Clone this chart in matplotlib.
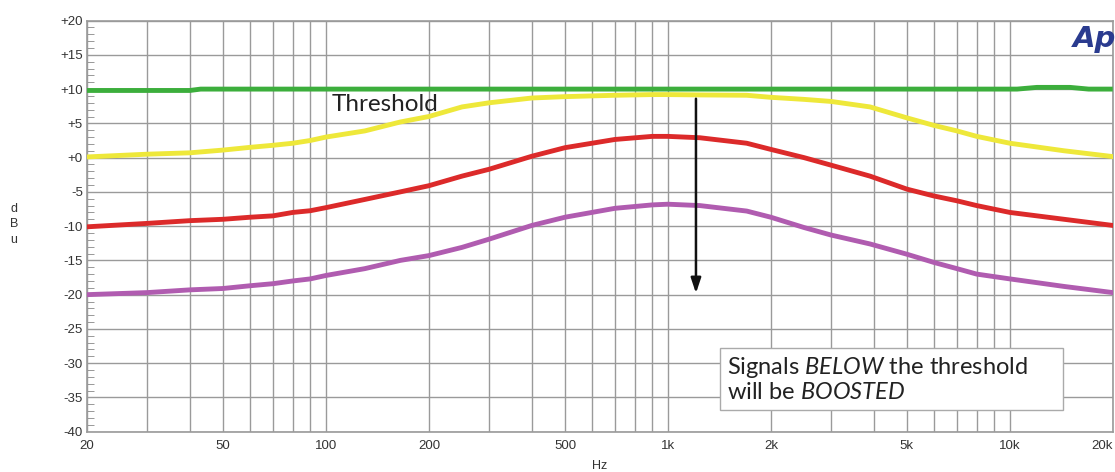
import matplotlib
matplotlib.use("Agg")
import matplotlib.pyplot as plt
from matplotlib.patches import Rectangle
from matplotlib.ticker import FixedLocator, NullFormatter

plt.rcParams['font.family'] = ['Liberation Sans', 'DejaVu Sans']
plt.rcParams['mathtext.fontset'] = 'custom'
plt.rcParams['mathtext.rm'] = 'Lato'
plt.rcParams['mathtext.it'] = 'Lato:italic'

# Frequencies (Hz) at which the curves were read
freq = [20, 30, 40, 50, 60, 70, 80, 90, 100, 130, 165, 200, 250, 300, 400, 500,
        700, 900, 1000, 1240, 1700, 2000, 2500, 3000, 3900, 5000, 6000, 7000,
        8000, 10000, 14400, 20000]

yellow_db = [0.1, 0.5, 0.7, 1.1, 1.5, 1.8, 2.1, 2.5, 3.0, 3.9, 5.2, 6.0, 7.4, 8.0, 8.7, 8.9,
             9.1, 9.2, 9.2, 9.15, 9.1, 8.8, 8.5, 8.2, 7.4, 5.8, 4.7, 3.9,
             3.1, 2.1, 1.0, 0.15]
red_db = [-10.1, -9.6, -9.2, -9.0, -8.7, -8.5, -8.0, -7.75, -7.3, -6.1, -5.0, -4.1, -2.7, -1.7, 0.2, 1.45,
          2.65, 3.1, 3.1, 2.9, 2.1, 1.2, 0.0, -1.1, -2.7, -4.6, -5.6, -6.3,
          -7.0, -8.0, -9.0, -9.9]
purple_db = [-20.0, -19.7, -19.3, -19.1, -18.7, -18.4, -18.0, -17.7, -17.2, -16.2, -15.0, -14.3, -13.1, -11.9, -9.9, -8.7,
             -7.4, -6.9, -6.8, -7.0, -7.8, -8.7, -10.2, -11.3, -12.6, -14.1, -15.3, -16.2,
             -17.0, -17.7, -18.8, -19.7]

# Threshold line
thr_freq = [20, 40, 43, 10500, 12000, 15000, 17000, 20000]
thr_db = [9.8, 9.8, 10.0, 10.0, 10.25, 10.25, 10.0, 10.0]

xtick_vals = [20, 50, 100, 200, 500, 1000, 2000, 5000, 10000, 20000]
xtick_labels = ["20", "50", "100", "200", "500", "1k", "2k", "5k", "10k", "20k"]
xgrid_vals = [20, 30, 40, 50, 60, 70, 80, 90, 100, 200, 300, 400, 500, 600, 700, 800, 900,
              1000, 2000, 3000, 4000, 5000, 6000, 7000, 8000, 9000, 10000, 20000]
ytick_vals = list(range(-40, 25, 5))
ytick_labels = [("+%d" % v) if v >= 0 else str(v) for v in ytick_vals]

fig = plt.figure(figsize=(11.15, 4.72), dpi=100)
ax = fig.add_axes([0.078, 0.0854, 0.920, 0.871])

ax.plot(thr_freq, thr_db, color="#3cae3c", lw=3.5, solid_capstyle="butt", zorder=4)
ax.plot(freq, yellow_db, color="#eee83a", lw=3.5, solid_joinstyle="round", zorder=4)
ax.plot(freq, red_db, color="#dc2a2a", lw=3.5, solid_joinstyle="round", zorder=4)
ax.plot(freq, purple_db, color="#b05cb0", lw=3.5, solid_joinstyle="round", zorder=4)

ax.set_xscale("log")
ax.set_xlim(20, 20000)
ax.set_ylim(-40, 20)

ax.xaxis.set_major_locator(FixedLocator(xtick_vals))
ax.set_xticklabels(xtick_labels)
ax.get_xticklabels()[-1].set_horizontalalignment("right")
ax.xaxis.set_minor_locator(FixedLocator(xgrid_vals))
ax.xaxis.set_minor_formatter(NullFormatter())
ax.set_yticks(ytick_vals)
ax.set_yticklabels(ytick_labels)
ax.yaxis.set_minor_locator(FixedLocator(list(range(-40, 21))))

ax.grid(True, which="major", color="#9a9a9a", lw=1.0)
ax.grid(True, which="minor", axis="x", color="#9a9a9a", lw=1.0)
ax.tick_params(axis="x", which="both", length=0, pad=6, labelsize=9.5, labelcolor="#333333")
ax.tick_params(axis="y", which="major", length=0, pad=3, labelsize=9.5, labelcolor="#333333")
ax.tick_params(axis="y", which="minor", direction="in", length=5, color="#888888")
for s in ax.spines.values():
    s.set_color("#9a9a9a")
    s.set_linewidth(1.2)

ax.set_xlabel("Hz", fontsize=9, color="#333333", labelpad=6)
fig.text(0.0125, 0.525, "d\nB\nu", fontsize=9, color="#333333", ha="center", va="center",
         linespacing=1.4)

# Annotations
ax.text(104, 7.8, "Threshold", fontname="Lato", fontsize=17.5, color="#222222",
        va="center", ha="left", zorder=5)
ax.annotate("", xy=(1208, -20.2), xytext=(1208, 9.0),
            arrowprops=dict(arrowstyle="-|>,head_length=0.9,head_width=0.3",
                            color="#111111", lw=1.8), zorder=6)
ax.add_patch(Rectangle((0.617, 0.053), 0.334, 0.151, transform=ax.transAxes,
                       fc="white", ec="#aaaaaa", lw=1.0, zorder=5))
ax.text(0.624, 0.128, "Signals $\\mathit{BELOW}$ the threshold\nwill be $\\mathit{BOOSTED}$",
        transform=ax.transAxes, fontname="Lato", fontsize=17, color="#222222",
        va="center", ha="left", linespacing=1.15, zorder=6)

fig.text(0.962, 0.918, "Ap", fontsize=21, fontweight="bold", fontstyle="italic",
         color="#2a3b8f", fontname="DejaVu Sans", ha="left", va="center")

fig.savefig("out.png", dpi=100)
